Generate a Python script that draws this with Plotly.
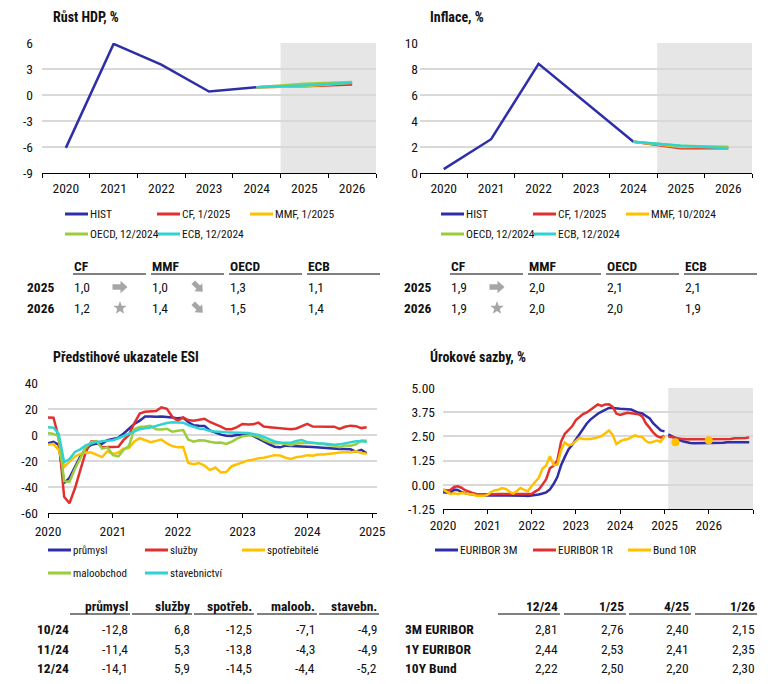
import math
import plotly.graph_objects as go
import pandas as pd

# ---------------- data ----------------
years = ["2020", "2021", "2022", "2023", "2024", "2025", "2026"]

gdp_hist = [-6.1, 5.9, 3.5, 0.4, 0.9]
gdp_cf = [1.0, 1.2]
gdp_mmf = [1.0, 1.4]
gdp_oecd = [1.3, 1.5]
gdp_ecb = [1.1, 1.4]

inf_hist = [0.3, 2.6, 8.4, 5.4, 2.4]
inf_cf = [1.9, 1.9]
inf_mmf = [2.0, 2.0]
inf_oecd = [2.1, 2.0]
inf_ecb = [2.1, 1.9]

gdp_legend = ["HIST", "CF, 1/2025", "MMF, 1/2025", "OECD, 12/2024", "ECB, 12/2024"]
inf_legend = ["HIST", "CF, 1/2025", "MMF, 10/2024", "OECD, 12/2024", "ECB, 12/2024"]
table_cols = ["CF", "MMF", "OECD", "ECB"]
table_rows = ["2025", "2026"]
gdp_icons_cf = ["right", "star"]
gdp_icons_mmf = ["downright", "downright"]
inf_icons_cf = ["right", "star"]

esi_dates = pd.date_range("2020-01-01", periods=60, freq="MS")
esi_prumysl = [-6.4, -5.3, -7.5, -37.0, -33.0, -24.0, -16.5, -10.5, -7.5, -6.5, -6.8, -4.0,
               -3.0, -2.0, 1.0, 4.5, 8.5, 11.0, 14.3, 14.3, 14.0, 14.3, 14.0, 13.5,
               12.8, 13.3, 10.0, 7.5, 7.2, 7.0, 3.5, 1.8, 0.3, -0.6, -0.8, 0.0,
               0.5, 0.5, -0.5, -2.5, -5.0, -7.2, -9.0, -9.5, -8.2, -8.5, -8.5, -9.0,
               -9.0, -9.2, -9.5, -10.3, -10.3, -10.5, -10.8, -10.8, -11.0, -12.8, -11.4, -14.1]
esi_sluzby = [13.5, 13.3, -2.0, -47.5, -52.5, -41.0, -27.0, -13.0, -5.0, -5.0, -9.5, -9.5,
              -9.0, -9.0, -4.0, 0.0, 9.0, 16.5, 17.8, 18.2, 18.4, 21.3, 20.2, 14.0,
              11.0, 13.5, 11.5, 11.0, 11.5, 12.5, 10.0, 8.5, 6.5, 4.4, 4.5, 6.0,
              8.5, 8.0, 8.2, 9.5, 6.5, 6.0, 5.6, 5.3, 5.0, 4.4, 5.0, 6.8,
              8.5, 6.5, 6.3, 6.4, 6.4, 6.4, 4.7, 6.3, 7.2, 6.8, 5.3, 5.9]
esi_spotrebitele = [-7.5, -6.8, -11.5, -24.5, -20.5, -16.5, -14.5, -13.5, -13.5, -15.5, -17.0, -12.5,
                    -14.5, -13.5, -10.5, -10.0, -5.0, -2.5, -4.0, -5.5, -4.5, -3.5, -6.5, -8.5,
                    -9.5, -9.3, -21.5, -22.5, -21.5, -23.5, -27.0, -25.0, -28.8, -28.5, -24.0, -22.5,
                    -20.5, -19.5, -19.0, -17.9, -17.5, -16.5, -15.5, -15.8, -17.5, -18.5, -17.0, -16.5,
                    -15.5, -16.0, -15.0, -15.0, -14.5, -14.3, -13.5, -13.0, -13.5, -12.5, -13.8, -14.5]
esi_maloobchod = [1.5, 0.8, -1.0, -35.5, -36.0, -26.0, -18.0, -9.5, -5.5, -4.8, -10.5, -9.5,
                  -15.5, -16.5, -11.5, -8.5, 4.5, 6.2, 6.5, 7.0, 4.5, 4.3, 4.8, 2.6,
                  3.2, 3.8, -3.5, -5.2, -4.0, -4.2, -5.2, -6.0, -5.8, -6.9, -5.2, -2.8,
                  -1.0, -0.2, 0.0, -1.5, -3.8, -5.5, -6.5, -6.2, -7.0, -7.8, -6.5, -6.2,
                  -6.0, -6.2, -6.5, -7.0, -7.8, -8.0, -9.3, -8.0, -8.2, -7.1, -4.3, -4.4]
esi_stavebnictvi = [6.0, 5.6, 1.0, -21.0, -18.5, -13.0, -11.0, -8.0, -6.5, -5.3, -4.8, -4.5,
                    -4.0, -2.5, -1.0, 1.0, 2.8, 4.5, 5.2, 5.8, 7.0, 8.2, 9.2, 9.8,
                    9.8, 9.5, 7.7, 6.4, 5.0, 4.5, 3.1, 2.6, 2.2, 2.1, 2.0, 2.0,
                    2.0, 1.5, 0.8, 0.0, -1.5, -3.0, -5.0, -5.8, -6.0, -5.9, -4.6, -3.8,
                    -5.5, -6.2, -6.4, -6.5, -6.9, -7.5, -7.2, -6.5, -5.8, -4.9, -4.9, -5.2]
esi_names = ["průmysl", "služby", "spotřebitelé", "maloobchod", "stavebnictví"]
esi_table_cols = ["průmysl", "služby", "spotřeb.", "maloob.", "stavebn."]
esi_table_rows = ["10/24", "11/24", "12/24"]

rate_hist_dates = pd.date_range("2020-01-01", periods=61, freq="MS")
rate_fc_dates = pd.date_range("2025-02-01", periods=23, freq="MS")
euribor3m_hist = [-0.39, -0.41, -0.42, -0.25, -0.27, -0.38, -0.44, -0.48, -0.49, -0.51, -0.52, -0.54,
                  -0.55, -0.54, -0.54, -0.54, -0.54, -0.54, -0.55, -0.55, -0.55, -0.55, -0.57, -0.58,
                  -0.56, -0.53, -0.50, -0.45, -0.39, -0.24, 0.04, 0.40, 1.01, 1.43, 1.83, 2.06,
                  2.35, 2.64, 2.91, 3.17, 3.37, 3.54, 3.67, 3.78, 3.88, 3.97, 3.97, 3.94,
                  3.93, 3.92, 3.92, 3.89, 3.81, 3.72, 3.69, 3.55, 3.43, 3.17, 3.01, 2.81,
                  2.76]
euribor1y_hist = [-0.25, -0.29, -0.27, -0.11, -0.08, -0.15, -0.28, -0.36, -0.42, -0.47, -0.48, -0.50,
                  -0.50, -0.50, -0.49, -0.48, -0.48, -0.48, -0.49, -0.50, -0.49, -0.48, -0.49, -0.50,
                  -0.48, -0.34, -0.24, 0.01, 0.29, 0.85, 0.99, 1.25, 2.23, 2.63, 2.83, 3.02,
                  3.34, 3.53, 3.65, 3.74, 3.86, 4.01, 4.15, 4.07, 4.15, 4.16, 4.02, 3.68,
                  3.61, 3.67, 3.72, 3.70, 3.68, 3.65, 3.53, 3.17, 2.94, 2.69, 2.51, 2.44,
                  2.53]
bund10y_hist = [-0.24, -0.38, -0.47, -0.44, -0.47, -0.42, -0.46, -0.47, -0.49, -0.56, -0.56, -0.57,
                -0.52, -0.37, -0.29, -0.26, -0.17, -0.21, -0.35, -0.45, -0.32, -0.16, -0.26, -0.33,
                -0.06, 0.19, 0.36, 0.84, 1.00, 1.48, 1.03, 1.03, 1.79, 2.19, 2.04, 2.09,
                2.26, 2.43, 2.36, 2.35, 2.37, 2.40, 2.46, 2.52, 2.66, 2.81, 2.58, 2.10,
                2.24, 2.33, 2.35, 2.47, 2.55, 2.50, 2.47, 2.26, 2.17, 2.23, 2.29, 2.22,
                2.50]
euribor3m_fc = [2.60, 2.50, 2.40, 2.32, 2.25, 2.20, 2.16, 2.15, 2.15, 2.15, 2.15, 2.15,
                2.15, 2.15, 2.15, 2.17, 2.20, 2.20, 2.20, 2.20, 2.20, 2.20, 2.20]
euribor1y_fc = [2.50, 2.46, 2.41, 2.38, 2.36, 2.35, 2.35, 2.35, 2.35, 2.35, 2.35, 2.35,
                2.35, 2.35, 2.35, 2.35, 2.35, 2.37, 2.40, 2.40, 2.40, 2.42, 2.45]
bund_fc_dates = ["2025-04-01", "2026-01-01"]
rate_names = ["EURIBOR 3M", "EURIBOR 1R", "Bund 10R"]
rate_table_cols = ["12/24", "1/25", "4/25", "1/26"]
rate_table_rows = ["3M EURIBOR", "1Y EURIBOR", "10Y Bund"]
rate_3m_tab = [2.81, 2.76, 2.40, 2.15]
rate_1y_tab = [2.44, 2.53, 2.41, 2.35]
rate_bund_tab = [2.22, 2.50, 2.20, 2.30]

# ---------------- style ----------------
W, H = 772, 684
FONT = "Roboto Condensed, Liberation Sans, Arial, sans-serif"
C_TXT = "#111111"
C_BLUE = "#2e2ea8"
C_RED = "#e0312f"
C_YEL = "#ffc000"
C_GRN = "#9acd3c"
C_CYA = "#2fd3d3"
C_GRID = "#d9d9d9"
C_SHADE = "#e6e6e6"
C_ICON = "#a6a6a6"
C_RULE = "#808080"
LW = 2.5


def fx(p):
    return p / W


def fy(p):
    return 1 - p / H


def fmt(v, d=1):
    return f"{v:.{d}f}".replace(".", ",")


fig = go.Figure()

# ---- panel 1: GDP ----
fc_years = years[4:]
series1 = [(gdp_cf, C_RED), (gdp_mmf, C_YEL), (gdp_oecd, C_GRN), (gdp_ecb, C_CYA)]
fig.add_trace(go.Scatter(x=years[:5], y=gdp_hist, mode="lines", line=dict(color=C_BLUE, width=LW),
                         xaxis="x", yaxis="y"))
for vals, col in series1:
    fig.add_trace(go.Scatter(x=fc_years, y=[gdp_hist[-1]] + vals, mode="lines",
                             line=dict(color=col, width=LW), xaxis="x", yaxis="y"))

# ---- panel 2: inflation ----
series2 = [(inf_cf, C_RED), (inf_mmf, C_YEL), (inf_oecd, C_GRN), (inf_ecb, C_CYA)]
fig.add_trace(go.Scatter(x=years[:5], y=inf_hist, mode="lines", line=dict(color=C_BLUE, width=LW),
                         xaxis="x2", yaxis="y2"))
for vals, col in series2:
    fig.add_trace(go.Scatter(x=fc_years, y=[inf_hist[-1]] + vals, mode="lines",
                             line=dict(color=col, width=LW), xaxis="x2", yaxis="y2"))

# ---- panel 3: ESI ----
esi_series = [esi_prumysl, esi_sluzby, esi_spotrebitele, esi_maloobchod, esi_stavebnictvi]
esi_colors = [C_BLUE, C_RED, C_YEL, C_GRN, C_CYA]
for vals, col in zip(esi_series, esi_colors):
    fig.add_trace(go.Scatter(x=esi_dates, y=vals, mode="lines", line=dict(color=col, width=LW),
                             xaxis="x3", yaxis="y3"))

# ---- panel 4: rates ----
fig.add_trace(go.Scatter(x=rate_hist_dates, y=euribor3m_hist, mode="lines",
                         line=dict(color=C_BLUE, width=LW), xaxis="x4", yaxis="y4"))
fig.add_trace(go.Scatter(x=rate_hist_dates, y=euribor1y_hist, mode="lines",
                         line=dict(color=C_RED, width=LW), xaxis="x4", yaxis="y4"))
fig.add_trace(go.Scatter(x=rate_hist_dates, y=bund10y_hist, mode="lines",
                         line=dict(color=C_YEL, width=LW), xaxis="x4", yaxis="y4"))
fig.add_trace(go.Scatter(x=rate_fc_dates, y=euribor3m_fc, mode="lines",
                         line=dict(color=C_BLUE, width=LW), xaxis="x4", yaxis="y4"))
fig.add_trace(go.Scatter(x=rate_fc_dates, y=euribor1y_fc, mode="lines",
                         line=dict(color=C_RED, width=LW), xaxis="x4", yaxis="y4"))
fig.add_trace(go.Scatter(x=bund_fc_dates, y=rate_bund_tab[2:], mode="markers",
                         marker=dict(color=C_YEL, size=8), xaxis="x4", yaxis="y4"))

# ---------------- axes ----------------
tickfont = dict(family=FONT, size=13.5, color=C_TXT)
xcommon = dict(showline=True, linecolor="#000000", linewidth=1, ticks="outside", ticklen=4,
               tickcolor="#000000", showgrid=False, zeroline=False, tickfont=tickfont,
               fixedrange=True, automargin=False)
ycommon = dict(showgrid=True, gridcolor=C_GRID, gridwidth=1.5, zeroline=False, showline=False,
               ticks="", tickfont=tickfont, fixedrange=True, automargin=False)

gdp_ticks = [-9, -6, -3, 0, 3, 6]
inf_ticks = [0, 2, 4, 6, 8, 10]
esi_ticks = [-60, -40, -20, 0, 20, 40]
rate_ticks = [-1.25, 0.0, 1.25, 2.5, 3.75, 5.0]
esi_years = ["2020", "2021", "2022", "2023", "2024", "2025"]
rate_years = ["2020", "2021", "2022", "2023", "2024", "2025", "2026", "2027"]

fig.update_layout(
    xaxis=dict(xcommon, domain=[fx(42), fx(376)], anchor="y", type="category",
               range=[-0.5, 6.5], tickson="boundaries", ticklabelstandoff=3),
    yaxis=dict(ycommon, domain=[fy(173), fy(43)], anchor="x", range=[-9, 6],
               tickvals=gdp_ticks, ticktext=[str(t) for t in gdp_ticks], ticklabelstandoff=8),
    xaxis2=dict(xcommon, domain=[fx(420), fx(752)], anchor="y2", type="category",
                range=[-0.5, 6.5], tickson="boundaries", ticklabelstandoff=3),
    yaxis2=dict(ycommon, domain=[fy(173), fy(43)], anchor="x2", range=[0, 10],
                tickvals=inf_ticks, ticktext=[str(t) for t in inf_ticks], ticklabelstandoff=1),
    xaxis3=dict(xcommon, domain=[fx(48), fx(377)], anchor="y3", type="date",
                range=["2020-01-01", "2025-01-28"], ticklabelstandoff=2,
                tickvals=[f"{y}-01-01" for y in esi_years], ticktext=esi_years),
    yaxis3=dict(ycommon, domain=[fy(513), fy(383)], anchor="x3", range=[-60, 40],
                tickvals=esi_ticks, ticktext=[str(t) for t in esi_ticks], ticklabelstandoff=9),
    xaxis4=dict(xcommon, domain=[fx(443), fx(753)], anchor="y4", type="date",
                range=["2020-01-01", "2027-01-01"],
                tickvals=[f"{y}-01-01" for y in rate_years],
                ticktext=rate_years[:-1] + [""]),
    yaxis4=dict(ycommon, domain=[fy(509), fy(388)], anchor="x4", range=[-1.25, 5.0],
                tickvals=rate_ticks, ticktext=[f"{t:.2f}" for t in rate_ticks], ticklabelstandoff=7),
)

shapes = []
annotations = []

# shaded forecast areas
shapes.append(dict(type="rect", xref="x", yref="y", x0=4.5, x1=6.5, y0=-9, y1=6,
                   fillcolor=C_SHADE, line=dict(width=0), layer="below"))
shapes.append(dict(type="rect", xref="x2", yref="y2", x0=4.5, x1=6.5, y0=0, y1=10,
                   fillcolor=C_SHADE, line=dict(width=0), layer="below"))
shapes.append(dict(type="rect", xref="x4", yref="y4", x0="2025-02-01", x1="2027-01-01",
                   y0=-1.25, y1=5.0, fillcolor=C_SHADE, line=dict(width=0), layer="below"))


def text(x, y, s, size=13, bold=False, anchor="left", color=C_TXT):
    if bold:
        s = f"<b>{s}</b>"
    annotations.append(dict(xref="paper", yref="paper", x=fx(x), y=fy(y), text=s,
                            showarrow=False, xanchor=anchor, yanchor="middle", borderpad=0,
                            font=dict(family=FONT, size=size, color=color)))


def hline(x0, x1, y, color, width):
    shapes.append(dict(type="line", xref="paper", yref="paper", x0=fx(x0), x1=fx(x1),
                       y0=fy(y), y1=fy(y), line=dict(color=color, width=width)))


def icon(kind, cx, cy):
    if kind == "star":
        pts = []
        for k in range(10):
            r = 7.0 if k % 2 == 0 else 2.9
            a = -math.pi / 2 + k * math.pi / 5
            pts.append((r * math.cos(a), r * math.sin(a)))
    else:
        base = [(-7.5, -2.8), (0.5, -2.8), (0.5, -6.2), (7.5, 0), (0.5, 6.2), (0.5, 2.8), (-7.5, 2.8)]
        if kind == "downright":
            c = s = math.sqrt(0.5)
            base = [(0.9 * (x * c - y * s), 0.9 * (x * s + y * c)) for x, y in base]
        pts = base
    path = "M " + " L ".join(f"{fx(cx + dx):.5f},{fy(cy + dy):.5f}" for dx, dy in pts) + " Z"
    shapes.append(dict(type="path", xref="paper", yref="paper", path=path,
                       fillcolor=C_ICON, line=dict(width=0)))


# titles
text(52, 17, "Růst HDP, %", 14, True)
text(429, 17, "Inflace, %", 14, True)
text(52, 357, "Předstihové ukazatele ESI", 14, True)
text(429, 357, "Úrokové sazby, %", 14, True)


def legend(items, size=11.5):
    for (x, y, col, lab) in items:
        hline(x, x + 23, y, col, 3)
        text(x + 24, y, lab, size)


cols5 = [C_BLUE, C_RED, C_YEL, C_GRN, C_CYA]
pos1 = [(65, 214), (157, 214), (250, 214), (65, 234), (157, 234)]
legend([(p[0], p[1], c, l) for p, c, l in zip(pos1, cols5, gdp_legend)])
legend([(p[0] + 376, p[1], c, l) for p, c, l in zip(pos1, cols5, inf_legend)])
pos3 = [(48, 550), (145, 550), (242, 550), (48, 573), (145, 573)]
legend([(p[0], p[1], c, l) for p, c, l in zip(pos3, cols5, esi_names)], 11)
pos4 = [(435, 550), (533, 550), (628, 550)]
legend([(p[0], p[1], c, l) for p, c, l in zip(pos4, [C_BLUE, C_RED, C_YEL], rate_names)], 11.5)

# ---- forecast tables (panels 1, 2) ----
row_y = [287, 308]


def fc_table(x_lab, col_x, vals_list, icons):
    for cx, name, vals in zip(col_x, table_cols, vals_list):
        text(cx, 266, name, 13.5, True)
        hline(cx, cx + 73, 274, C_RULE, 2)
        for ry, v in zip(row_y, vals):
            text(cx, ry, fmt(v), 13.5)
    for ry, lab in zip(row_y, table_rows):
        text(x_lab, ry, lab, 13.5, True)
    for ix, kinds in icons:
        for ry, k in zip(row_y, kinds):
            icon(k, ix, ry)


fc_table(26, [73, 151, 229, 307], [gdp_cf, gdp_mmf, gdp_oecd, gdp_ecb],
         [(120, gdp_icons_cf), (198, gdp_icons_mmf)])
fc_table(403, [450, 528, 606, 684], [inf_cf, inf_mmf, inf_oecd, inf_ecb],
         [(497, inf_icons_cf)])

# ---- ESI table ----
trow_y = [629, 649, 668]
esi_right = [129, 191, 253, 316, 378]
for rx, name, vals in zip(esi_right, esi_table_cols, esi_series):
    text(rx, 606, name, 13.5, True, "right")
    hline(rx - 59, rx + 1, 614, C_RULE, 2)
    for ry, v in zip(trow_y, vals[-3:]):
        text(rx, ry, fmt(v), 13.5, False, "right")
for ry, lab in zip(trow_y, esi_table_rows):
    text(36, ry, lab, 13.5, True)

# ---- rates table ----
rate_right = [559, 625, 690, 756]
for i, (rx, name) in enumerate(zip(rate_right, rate_table_cols)):
    text(rx, 606, name, 13.5, True, "right")
    hline(rx - 61, rx + 1, 614, C_RULE, 2)
    for ry, vals in zip(trow_y, [rate_3m_tab, rate_1y_tab, rate_bund_tab]):
        text(rx, ry, fmt(vals[i], 2), 13.5, False, "right")
for ry, lab in zip(trow_y, rate_table_rows):
    text(404, ry, lab, 13.5, True)

fig.update_layout(
    width=W, height=H, margin=dict(l=0, r=0, t=0, b=0, pad=0, autoexpand=False),
    paper_bgcolor="white", plot_bgcolor="white",
    showlegend=False, shapes=shapes, annotations=annotations,
    font=dict(family=FONT, color=C_TXT),
)

fig.write_html("out.html", config={"displayModeBar": False},
               post_script="document.body.style.margin='0';")
